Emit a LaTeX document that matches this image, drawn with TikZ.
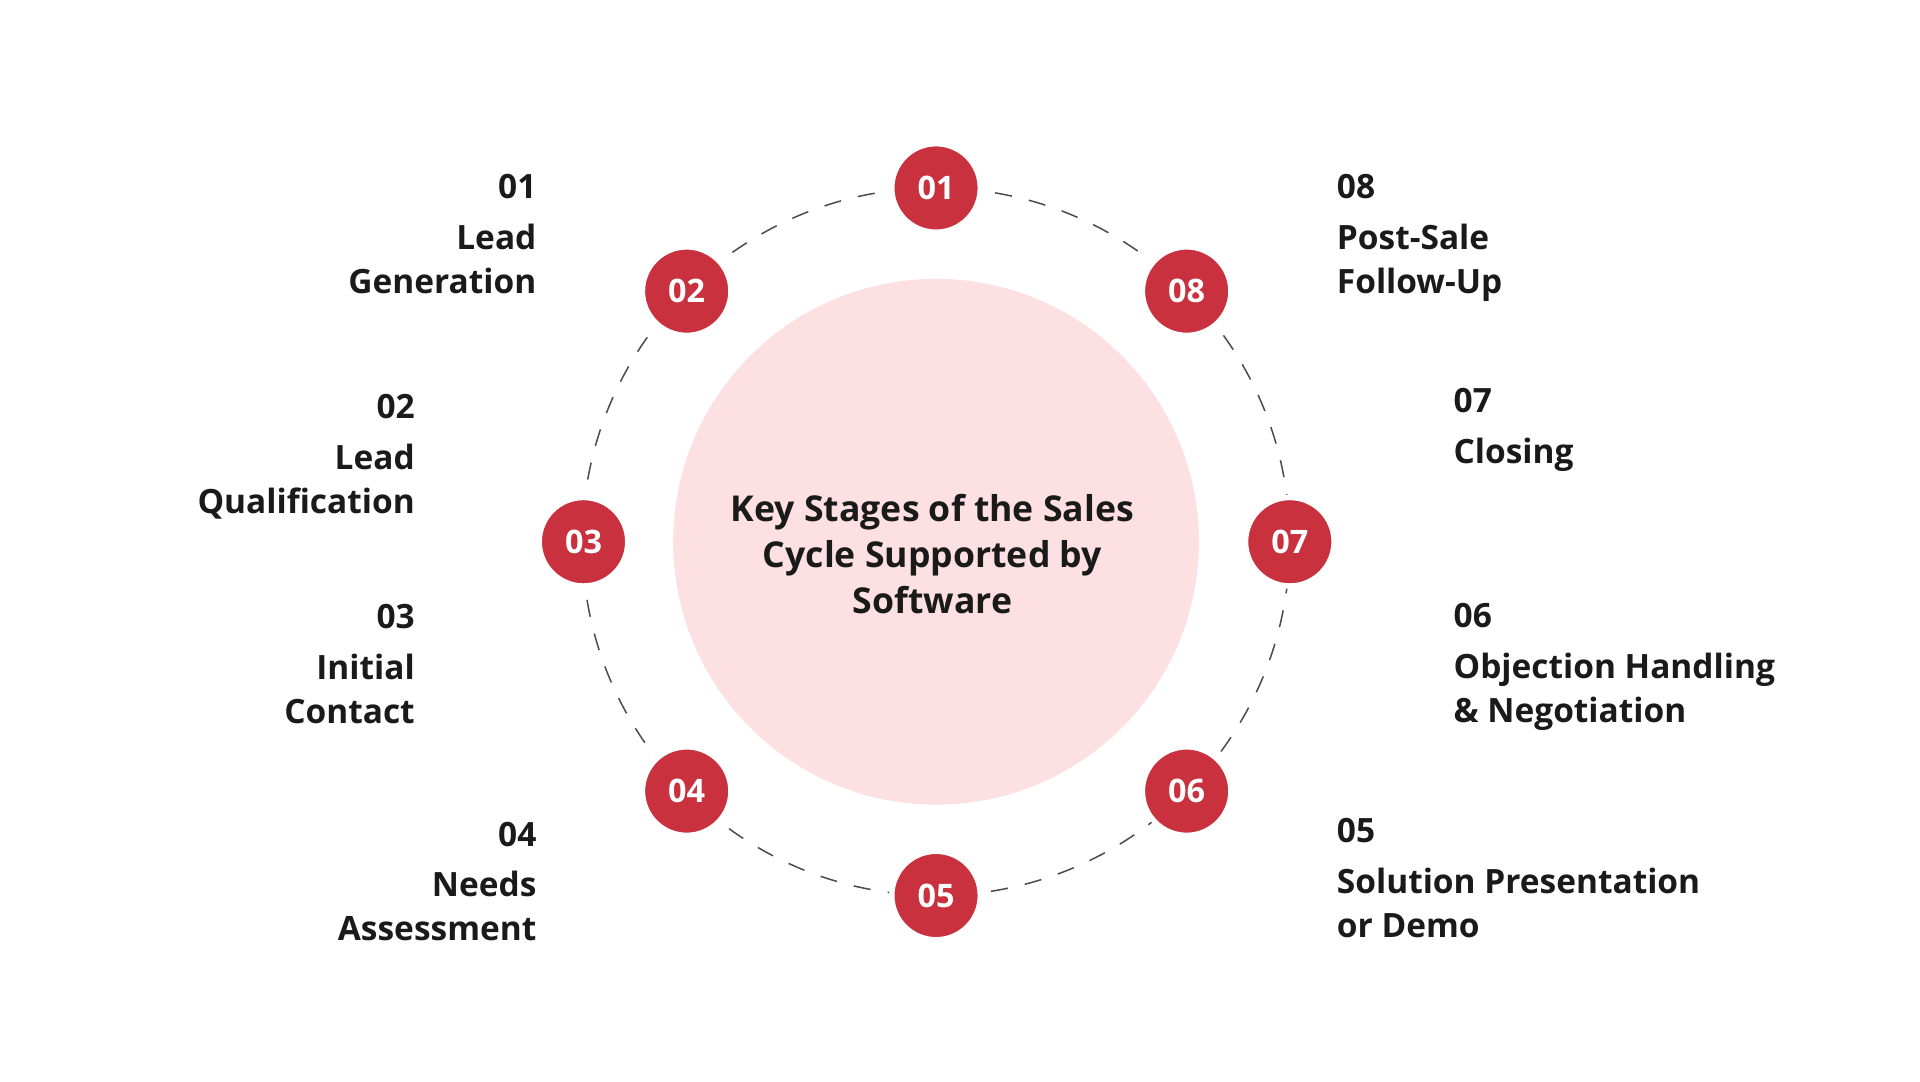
\documentclass[tikz,border=0pt]{standalone}
\usepackage{fontspec}
\setmainfont{Open Sans}
\definecolor{badge}{HTML}{C8313D}
\definecolor{pinkc}{HTML}{FDE1E2}
\definecolor{txt}{HTML}{1A1A1A}
\begin{document}
\begin{tikzpicture}[x=0.02cm,y=-0.02cm,
  badgenode/.style={circle,fill=badge,draw=white,line width=2.5pt,minimum size=41pt,inner sep=0pt,text=white,font=\fontsize{15}{18}\selectfont\bfseries},
  numlab/.style={inner sep=0pt,text=txt,font=\fontsize{15.5}{20.4}\selectfont\bfseries},
  titlab/.style={inner sep=0pt,text=txt,font=\fontsize{15.5}{20.4}\selectfont\bfseries}]
\useasboundingbox (0,0) rectangle (1563,880);
\fill[white] (0,0) rectangle (1563,880);
\coordinate (c) at (762,441);
\node[circle,fill=pinkc,minimum size=428*0.02cm,inner sep=0pt] (core) at (c) {};
\draw[gray!60!black,line width=0.7pt,dash pattern=on 8pt off 8pt] (c) circle[radius=288];
\node[badgenode] (b1) at (762,153) {01};
\node[badgenode] (b2) at (559,237) {02};
\node[badgenode] (b3) at (475,441) {03};
\node[badgenode] (b4) at (559,644) {04};
\node[badgenode] (b5) at (762,729) {05};
\node[badgenode] (b6) at (966,644) {06};
\node[badgenode] (b7) at (1050,441) {07};
\node[badgenode] (b8) at (966,237) {08};
\node[align=center,text=txt,font=\fontsize{16.5}{21.5}\selectfont\bfseries] (title) at (759,451) {Key Stages of the Sales\\Cycle Supported by\\Software};
% left labels
\node[numlab,anchor=east] (n1) at (437,152) {01};
\node[titlab,anchor=north east,align=right] (t1) at (437,182) {Lead\\Generation};
\node[numlab,anchor=east] (n2) at (338,331) {02};
\node[titlab,anchor=north east,align=right] (t2) at (338,361) {Lead\\Qualification};
\node[numlab,anchor=east] (n3) at (338,502) {03};
\node[titlab,anchor=north east,align=right] (t3) at (338,532) {Initial\\Contact};
\node[numlab,anchor=east] (n4) at (437,679) {04};
\node[titlab,anchor=north east,align=right] (t4) at (437,709) {Needs\\Assessment};
% right labels
\node[numlab,anchor=west] (n8) at (1088,152) {08};
\node[titlab,anchor=north west,align=left] (t8) at (1088,182) {Post-Sale\\Follow-Up};
\node[numlab,anchor=west] (n7) at (1183,326) {07};
\node[titlab,anchor=north west,align=left] (t7) at (1183,356) {Closing};
\node[numlab,anchor=west] (n6) at (1183,501) {06};
\node[titlab,anchor=north west,align=left] (t6) at (1183,531) {Objection Handling\\\& Negotiation};
\node[numlab,anchor=west] (n5) at (1088,676) {05};
\node[titlab,anchor=north west,align=left] (t5) at (1088,706) {Solution Presentation\\or Demo};
\end{tikzpicture}
\end{document}
